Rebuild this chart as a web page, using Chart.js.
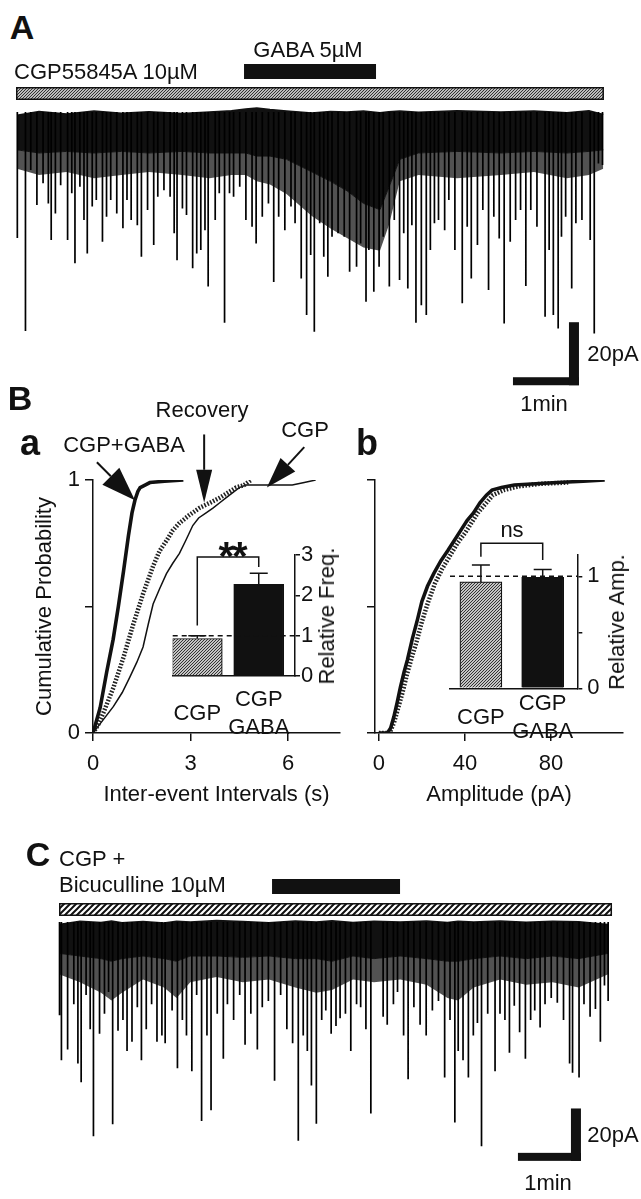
<!DOCTYPE html>
<html>
<head>
<meta charset="utf-8">
<title>CGP55845A / GABA sIPSC figure</title>
<script src="https://cdn.jsdelivr.net/npm/chart.js@4.4.1/dist/chart.umd.min.js"></script>
<style>
  html, body { margin: 0; padding: 0; background: #fff; }
  #fig { position: relative; width: 641px; height: 1199px; overflow: hidden;
         font-family: "Liberation Sans", Arial, Helvetica, sans-serif; color: #111; }
  #fig canvas { position: absolute; }
  .lbl { position: absolute; font-size: 22px; line-height: 1; white-space: nowrap; transform: translate(-50%, -50%); }
  .left { transform: translateY(-50%); }
  .panel { font-weight: bold; font-size: 34px; }
  .up { transform: translate(-50%, -50%) rotate(-90deg); }
</style>
</head>
<body>
<div id="fig">
  <canvas id="traceA" width="641" height="340" style="left:0;top:55px"></canvas>
  <canvas id="cdfIntervals" width="345" height="395" style="left:0;top:420px"></canvas>
  <canvas id="cdfAmp" width="296" height="395" style="left:345px;top:420px"></canvas>
  <canvas id="barFreq" width="195" height="230" style="left:150px;top:520px"></canvas>
  <canvas id="barAmp" width="211" height="230" style="left:430px;top:520px"></canvas>
  <canvas id="traceC" width="641" height="315" style="left:0;top:860px"></canvas>

  <div class="lbl panel" style="left:22px;top:27px">A</div>
  <div class="lbl" style="left:308px;top:50px">GABA 5µM</div>
  <div class="lbl left" style="left:14px;top:72px">CGP55845A 10µM</div>
  <div class="lbl" style="left:613px;top:354px">20pA</div>
  <div class="lbl" style="left:544px;top:404px">1min</div>

  <div class="lbl panel" style="left:20px;top:398px">B</div>
  <div class="lbl panel" style="left:30px;top:443px;font-size:36px">a</div>
  <div class="lbl panel" style="left:367px;top:443px;font-size:36px">b</div>
  <div class="lbl" style="left:124px;top:445px">CGP+GABA</div>
  <div class="lbl" style="left:202px;top:410px">Recovery</div>
  <div class="lbl" style="left:305px;top:430px">CGP</div>
  <div class="lbl" style="left:232px;top:556px;font-size:40px;font-weight:bold;letter-spacing:-2px">**</div>
  <div class="lbl" style="left:512px;top:530px">ns</div>
  <div class="lbl up" style="left:327px;top:616px">Relative Freq.</div>
  <div class="lbl up" style="left:617px;top:622px">Relative Amp.</div>

  <div class="lbl panel" style="left:38px;top:854px">C</div>
  <div class="lbl left" style="left:59px;top:859px">CGP +</div>
  <div class="lbl left" style="left:59px;top:885px">Bicuculline 10µM</div>
  <div class="lbl" style="left:613px;top:1135px">20pA</div>
  <div class="lbl" style="left:548px;top:1183px">1min</div>
</div>

<script>
// ---- panel A: trace in CGP55845A, GABA 5uM applied (time s, current pA) ----
var drugA_cgp = [-0.9, 533.6];
var drugA_gaba = [206.4, 326.4];
var scaleA = {t: 510.9, y: -86.7, dt: 60, dy: 20};

var bandA_t = [0, 20, 45, 70, 95, 120, 150, 175, 195, 208, 218, 230, 245, 268, 285, 300, 315, 330, 338, 348, 365, 400, 440, 470, 500, 520, 533];
var bandA_top = [-1.0, 0.2, -0.6, 0.3, -0.4, 0.1, -0.5, 0.0, 0.4, 1.0, 1.3, 0.8, 0.3, -0.3, 0.2, 0.0, 0.3, -0.2, 0.1, 0.3, -0.1, 0.4, 0.0, 0.3, -0.2, 0.4, -0.8];
var bandA_solid = [-12, -13, -12.5, -13, -12.5, -13, -12.5, -13, -13, -13, -14, -14, -15, -19, -22, -25, -29, -31, -24, -15, -13, -12.5, -13, -12.5, -13, -12.5, -12];
var bandA_dense = [-18, -20, -19, -21, -20, -19, -20, -21, -20, -20, -22, -23, -26, -33, -37, -40, -43, -44, -36, -22, -20, -21, -20, -19, -21, -20, -18];

var eventsA_t = [0.3, 7.7, 12.5, 18.1, 23.7, 28.5, 31.1, 34.9, 39.7, 46.0,
  49.8, 52.7, 57.2, 60.9, 63.9, 68.4, 72.1, 77.7, 81.4, 85.2,
  90.7, 96.3, 100.0, 103.8, 109.4, 113.1, 118.7, 124.3, 128.0, 133.6,
  139.2, 142.9, 145.5, 150.4, 154.1, 159.7, 163.4, 167.1, 170.9, 173.8,
  180.2, 183.9, 188.7, 193.2, 196.9, 202.5, 208.1, 213.7, 217.4, 223.0,
  228.6, 233.4, 237.9, 243.5, 249.1, 252.8, 258.4, 263.3, 267.0, 270.3,
  275.2, 278.9, 282.6, 286.4, 291.9, 297.5, 302.4, 308.7, 312.4, 317.3,
  319.9, 324.4, 329.2, 332.9, 338.5, 343.0, 347.8, 351.6, 355.3, 359.0,
  362.7, 367.6, 372.1, 375.8, 379.5, 383.2, 388.8, 392.6, 398.1, 404.8,
  409.3, 413.0, 418.6, 423.5, 428.7, 433.5, 438.4, 442.9, 448.4, 453.3,
  457.8, 462.6, 467.1, 472.7, 480.1, 483.8, 487.6, 492.0, 495.0, 498.8,
  504.3, 508.1, 513.6, 521.1, 524.8, 528.6, 532.3];
var eventsA_pA = [-40, -69.5, -18.4, -29.5, -22.6, -29.0, -40.6, -32.2, -23.2, -40.6,
  -25.8, -48.0, -23.7, -34.3, -44.9, -30.0, -27.9, -41.2, -33.2, -27.9,
  -32.2, -36.9, -27.9, -34.3, -35.9, -45.9, -31.1, -42.2, -26.9, -24.8,
  -26.9, -38.5, -47.0, -30.6, -32.7, -49.6, -44.9, -43.8, -37.5, -55.4,
  -34.3, -25.8, -66.9, -25.8, -26.9, -23.7, -34.3, -36.4, -41.7, -33.2,
  -29.0, -53.9, -33.2, -37.5, -30.0, -35.3, -52.8, -64.4, -45.4, -69.7,
  -35.3, -45.9, -52.3, -39.6, -38.5, -39.6, -50.7, -49.1, -41.7, -60.2,
  -43.8, -57.0, -49.1, -39.6, -55.4, -34.3, -53.3, -38.5, -56.0, -35.9,
  -66.9, -61.3, -64.4, -43.8, -35.3, -34.3, -37.5, -27.9, -43.8, -60.7,
  -36.4, -52.8, -42.2, -31.1, -56.5, -33.2, -40.1, -67.1, -41.2, -34.3,
  -31.1, -55.2, -31.1, -36.4, -65.0, -43.8, -64.4, -68.7, -39.6, -33.2,
  -56.0, -35.3, -34.3, -40.6, -70.3, -16.3, -16.8];

// ---- panel B a: cumulative inter-event intervals (s) ----
var ivlTicks = [0, 3, 6];
var ivlGabaT = [0, 0.22, 0.42, 0.62, 0.78, 0.94, 1.09, 1.2, 1.29, 1.38, 1.45, 1.6, 1.75, 2.2, 2.78];
var ivlGabaP = [0, 0.10, 0.24, 0.37, 0.50, 0.64, 0.78, 0.87, 0.92, 0.955, 0.97, 0.98, 0.99, 0.995, 1.0];
var ivlRecT = [0, 0.15, 0.32, 0.63, 0.94, 1.24, 1.54, 1.85, 2.05, 2.26, 2.45, 2.66, 2.95, 3.28, 3.6, 3.9, 4.15, 4.4, 4.65, 4.86];
var ivlRecP = [0, 0.03, 0.08, 0.18, 0.30, 0.43, 0.55, 0.66, 0.72, 0.76, 0.80, 0.83, 0.86, 0.89, 0.91, 0.93, 0.95, 0.97, 0.98, 1.0];
var ivlCgpT = [0, 0.3, 0.63, 0.9, 1.13, 1.35, 1.54, 1.7, 1.85, 2.05, 2.26, 2.45, 2.66, 2.85, 3.07, 3.25, 3.48, 3.7, 3.9, 4.1, 4.3, 4.5, 4.71, 5.0, 5.32, 5.7, 6.13, 6.5, 6.85];
var ivlCgpP = [0, 0.05, 0.105, 0.16, 0.22, 0.28, 0.34, 0.43, 0.51, 0.57, 0.63, 0.67, 0.71, 0.76, 0.82, 0.85, 0.87, 0.89, 0.91, 0.93, 0.95, 0.97, 0.98, 0.98, 0.98, 0.98, 0.98, 0.99, 1.0];
// arrow tail and tip for each curve label, in axis units
var ivlArrows = [[[0.12, 1.07], [1.29, 0.92]], [[3.42, 1.18], [3.42, 0.91]], [[6.5, 1.13], [5.35, 0.97]]];

var barCats = ['CGP', ['CGP', 'GABA']];
var freqMean = [0.93, 2.27];
var freqSem = [0.07, 0.28];
var freqTicks = [0, 1, 2, 3];
var freqBracket = [1.25, 2.95, 2.7];

// ---- panel B b: cumulative amplitude (pA) ----
var ampTicks = [0, 40, 80];
var ampGabaA = [0, 4, 5.5, 7, 8.5, 10, 11.7, 13.3, 15.5, 18, 20, 22.6, 25.5, 28.8, 32, 35, 38, 41, 44, 47, 50, 52.6, 57, 63, 73, 83, 95, 105];
var ampGabaP = [0, 0, 0.02, 0.065, 0.12, 0.18, 0.24, 0.29, 0.37, 0.45, 0.52, 0.58, 0.63, 0.68, 0.72, 0.76, 0.80, 0.84, 0.87, 0.91, 0.94, 0.96, 0.97, 0.98, 0.985, 0.99, 0.995, 1.0];
var ampCgpA = [0, 5, 7, 9, 11, 13, 15, 17.5, 20, 23, 26, 29.5, 33, 36.5, 40, 43, 46, 49, 53, 58, 65, 75, 88];
var ampCgpP = [0, 0, 0.04, 0.10, 0.16, 0.23, 0.29, 0.36, 0.44, 0.52, 0.59, 0.65, 0.70, 0.75, 0.79, 0.83, 0.87, 0.90, 0.94, 0.96, 0.975, 0.985, 0.99];

var ampMean = [0.95, 0.99];
var ampSem = [0.15, 0.07];
var ampBarTicks = [0, 0.5, 1];
var ampBracket = [1.175, 1.295, 1.145];

// ---- panel C: CGP + bicuculline, GABA applied ----
var drugC_cgp = [0, 526.7];
var drugC_gaba = [202.9, 324.8];
var scaleC = {t: 497.1, y: -91.2, dt: 60, dy: 20};

var bandC_t = [0, 20, 40, 50, 60, 80, 100, 112, 125, 150, 175, 200, 225, 245, 260, 280, 300, 325, 350, 370, 380, 395, 420, 445, 470, 495, 523];
var bandC_top = [-1.0, 0.3, -0.2, 0.4, -0.3, 0.2, -0.4, 0.3, 0.0, 0.6, 0.2, -0.3, 0.4, 0.0, 0.5, -0.2, 0.3, 0.0, 0.4, -0.2, 0.3, 0.0, 0.4, -0.1, 0.3, 0.1, -1.0];
var bandC_solid = [-12, -13, -14, -15, -14, -13, -14, -15, -13, -13, -13.5, -13, -14, -14, -15, -13, -14, -13, -14, -15, -15, -14, -13, -14, -13, -14, -12];
var bandC_dense = [-20, -23, -27, -30, -27, -22, -25, -29, -23, -21, -23, -22, -25, -27, -26, -22, -23, -22, -24, -29, -30, -25, -22, -24, -23, -25, -20];

var eventsC_t = [0.5, 2.3, 8.2, 14.1, 18.0, 21.1, 25.8, 29.7, 32.8, 38.6,
  43.3, 47.2, 51.1, 56.2, 60.9, 64.8, 69.5, 74.6, 78.5, 83.1,
  88.2, 93.3, 98.0, 101.1, 107.7, 112.8, 117.5, 121.4, 126.5, 131.1,
  135.8, 140.9, 144.8, 150.7, 156.5, 160.4, 166.3, 172.1, 177.2, 182.7,
  188.9, 193.6, 199.4, 205.3, 211.1, 217.0, 222.5, 227.9, 232.6, 236.5,
  240.4, 245.1, 250.2, 254.1, 259.2, 263.8, 267.7, 272.8, 277.9, 283.4,
  287.3, 292.3, 297.0, 308.7, 312.6, 318.5, 322.4, 328.2, 332.5, 338.0,
  343.9, 349.7, 355.6, 361.4, 367.3, 372.4, 377.0, 380.2, 384.8, 389.9,
  394.6, 398.5, 402.4, 408.3, 415.3, 420.0, 424.7, 429.0, 433.6, 438.7,
  444.2, 449.2, 453.1, 458.2, 462.9, 468.8, 474.6, 480.5, 486.3, 489.1,
  495.3, 500.0, 505.8, 510.9, 515.6, 519.5, 523.0];
var eventsC_pA = [-35.6, -52.8, -48.7, -31.4, -54.0, -61.2, -27.9, -41.0, -81.8, -42.7,
  -35.0, -26.7, -77.2, -41.5, -37.4, -49.3, -45.7, -32.6, -52.8, -41.0,
  -31.4, -45.7, -43.3, -46.3, -33.8, -55.8, -37.4, -43.3, -57.0, -27.9,
  -76.0, -43.3, -71.9, -35.0, -52.2, -31.4, -37.4, -27.9, -46.9, -35.0,
  -48.7, -32.6, -30.2, -60.6, -27.9, -41.0, -46.3, -83.5, -43.3, -49.3,
  -62.4, -77.0, -37.4, -33.8, -42.7, -39.7, -36.8, -35.0, -49.3, -31.4,
  -32.6, -41.0, -73.1, -36.2, -39.2, -31.4, -26.7, -43.3, -60.0, -32.6,
  -39.2, -43.3, -33.8, -30.2, -59.4, -37.4, -76.6, -49.3, -52.8, -59.4,
  -43.3, -38.6, -85.6, -35.0, -57.0, -35.0, -37.4, -49.9, -32.0, -42.1,
  -52.2, -37.4, -33.8, -40.3, -31.4, -29.0, -30.8, -37.4, -54.0, -57.6,
  -59.4, -31.4, -36.2, -33.2, -45.7, -24.3, -30.2];

var INK = '#111';
Chart.defaults.font.family = '"Liberation Sans", Arial, Helvetica, sans-serif';
Chart.defaults.font.size = 22;
Chart.defaults.color = INK;

function pts(xs, ys) {
  return xs.map(function (x, i) { return {x: x, y: ys[i]}; });
}
function eventPts(ts, vals) {
  var out = [];
  ts.forEach(function (t, i) { out.push({x: t, y: 0}, {x: t, y: vals[i]}, {x: t, y: null}); });
  return out;
}
function fixedTicks(values) {
  return function (scale) { scale.ticks = values.map(function (v) { return {value: v}; }); };
}
function hatch(ctx, size, lw, bg, fg) {
  var c = document.createElement('canvas');
  c.width = size; c.height = size;
  var g = c.getContext('2d');
  g.fillStyle = bg; g.fillRect(0, 0, size, size);
  g.strokeStyle = fg; g.lineWidth = lw;
  g.beginPath();
  g.moveTo(-1, size + 1); g.lineTo(size + 1, -1);
  g.moveTo(-size / 2 - 1, size / 2 + 1); g.lineTo(size / 2 + 1, -size / 2 - 1);
  g.moveTo(size / 2 - 1, size * 1.5 + 1); g.lineTo(size * 1.5 + 1, size / 2 - 1);
  g.stroke();
  return ctx.createPattern(c, 'repeat');
}
function baseOpts() {
  return {
    responsive: false, animation: false, devicePixelRatio: 1,
    elements: { point: { radius: 0 }, line: { tension: 0 } },
    plugins: { legend: { display: false }, tooltip: { enabled: false } }
  };
}

// drug bars above the trace and the L-shaped calibration bar
function traceDeco(bars, sb) {
  return {
    id: 'traceDeco',
    afterDraw: function (chart) {
      var c = chart.ctx, x = chart.scales.x, y = chart.scales.y, top = chart.chartArea.top;
      c.save();
      bars.forEach(function (b) {
        var x0 = x.getPixelForValue(b.range[0]), x1 = x.getPixelForValue(b.range[1]);
        c.fillStyle = b.hatch ? hatch(c, b.hatch[0], b.hatch[1], b.hatch[2], b.hatch[3]) : INK;
        c.fillRect(x0, top + b.y, x1 - x0, b.h);
        if (b.hatch) {
          c.strokeStyle = INK; c.lineWidth = 1.5;
          c.strokeRect(x0 + 0.75, top + b.y + 0.75, x1 - x0 - 1.5, b.h - 1.5);
        }
      });
      var xr = x.getPixelForValue(sb.t), xl = x.getPixelForValue(sb.t - sb.dt);
      var yb = y.getPixelForValue(sb.y), yt = y.getPixelForValue(sb.y + sb.dy);
      c.fillStyle = INK;
      c.fillRect(xl, yb - 8, xr - xl, 8);
      c.fillRect(xr - 10, yt, 10, yb - yt);
      c.restore();
    }
  };
}

function traceChart(id, evT, evA, bT, bTop, bSolid, bDense, xr, yr, bars, sb) {
  var ctx = document.getElementById(id).getContext('2d');
  var o = baseOpts();
  o.layout = { padding: 0 };
  o.scales = {
    x: { type: 'linear', display: false, min: xr[0], max: xr[1] },
    y: { type: 'linear', display: false, min: yr[0], max: yr[1] }
  };
  return new Chart(ctx, {
    type: 'line',
    data: { datasets: [
      { data: eventPts(evT, evA), borderColor: '#000', borderWidth: 1.7, spanGaps: false },
      { data: pts(bT, bTop), borderColor: INK, borderWidth: 1.5 },
      { data: pts(bT, bSolid), borderColor: INK, borderWidth: 1, fill: '-1', backgroundColor: INK },
      { data: pts(bT, bDense), borderColor: 'rgba(0,0,0,0)', borderWidth: 0, fill: '-1', backgroundColor: 'rgba(0,0,0,0.68)' }
    ]},
    options: o,
    plugins: [traceDeco(bars, sb)]
  });
}

function axisX(min, max, ticks, title) {
  return {
    type: 'linear', min: min, max: max,
    afterBuildTicks: fixedTicks(ticks),
    afterFit: function (s) { s.height = 82; },
    grid: { drawOnChartArea: false, drawTicks: true, tickLength: 8, color: INK, lineWidth: 1.5 },
    border: { display: true, color: INK, width: 1.5 },
    ticks: { padding: 10, maxRotation: 0, autoSkip: false, color: INK },
    title: { display: true, text: title, color: INK, padding: { top: 0, bottom: 7 } }
  };
}
function axisY(width, labels, title) {
  var ax = {
    type: 'linear', min: 0, max: 1,
    afterBuildTicks: fixedTicks([0, 0.5, 1]),
    afterFit: function (s) { s.width = width; },
    grid: { drawOnChartArea: false, drawTicks: true, tickLength: 8, color: INK, lineWidth: 1.5 },
    border: { display: true, color: INK, width: 1.5 },
    ticks: { padding: 5, color: INK, callback: function (v) { return labels[[0, 0.5, 1].indexOf(v)]; } }
  };
  if (title) ax.title = { display: true, text: title, color: INK, padding: { top: 32 } };
  return ax;
}

function arrowDeco(list) {
  var heads = [[34, 12], [33, 8], [31, 10]];
  return {
    id: 'arrowDeco',
    afterDraw: function (chart) {
      var c = chart.ctx, x = chart.scales.x, y = chart.scales.y;
      c.save(); c.strokeStyle = INK; c.fillStyle = INK; c.lineWidth = 2;
      list.forEach(function (a, i) {
        var x0 = x.getPixelForValue(a[0][0]), y0 = y.getPixelForValue(a[0][1]);
        var x1 = x.getPixelForValue(a[1][0]), y1 = y.getPixelForValue(a[1][1]);
        var ang = Math.atan2(y1 - y0, x1 - x0), L = heads[i][0], W = heads[i][1];
        var bx = x1 - L * Math.cos(ang), by = y1 - L * Math.sin(ang);
        c.beginPath(); c.moveTo(x0, y0); c.lineTo(bx, by); c.stroke();
        c.beginPath(); c.moveTo(x1, y1);
        c.lineTo(bx + W * Math.sin(ang), by - W * Math.cos(ang));
        c.lineTo(bx - W * Math.sin(ang), by + W * Math.cos(ang));
        c.closePath(); c.fill();
      });
      c.restore();
    }
  };
}

function insetDeco(means, sems, br) {
  return {
    id: 'insetDeco',
    afterDraw: function (chart) {
      var c = chart.ctx, x = chart.scales.x, y = chart.scales.y, a = chart.chartArea;
      c.save(); c.strokeStyle = INK; c.lineWidth = 1.5;
      means.forEach(function (m, i) {
        var px = x.getPixelForValue(i + 0.5), y0 = y.getPixelForValue(m), y1 = y.getPixelForValue(m + sems[i]);
        c.beginPath(); c.moveTo(px, y0); c.lineTo(px, y1);
        c.moveTo(px - 9, y1); c.lineTo(px + 9, y1); c.stroke();
      });
      var yr = y.getPixelForValue(1);
      c.setLineDash([5, 4]);
      c.beginPath(); c.moveTo(a.left, yr); c.lineTo(a.right, yr); c.stroke();
      c.setLineDash([]);
      var xl = x.getPixelForValue(0.5), xr = x.getPixelForValue(1.5);
      c.beginPath();
      c.moveTo(xl, y.getPixelForValue(br[0])); c.lineTo(xl, y.getPixelForValue(br[1]));
      c.lineTo(xr, y.getPixelForValue(br[1])); c.lineTo(xr, y.getPixelForValue(br[2]));
      c.stroke();
      c.restore();
    }
  };
}

function insetChart(id, means, sems, yMax, yTicks, yLabels, br, g) {
  var ctx = document.getElementById(id).getContext('2d');
  var o = baseOpts();
  o.layout = { padding: { left: g.padL, top: 35 } };
  o.scales = {
    x: { type: 'linear', offset: false, min: g.xMin, max: g.xMax,
         afterBuildTicks: fixedTicks([0.5, 1.5]),
         afterFit: function (s) { s.height = g.xH; },
         grid: { display: false, offset: false },
         border: { display: true, color: INK, width: 1.5 },
         ticks: { padding: g.xPad, crossAlign: 'center', maxRotation: 0, autoSkip: false, color: INK,
                  font: { lineHeight: 1.27 },
                  callback: function (v, i) { return barCats[i]; } } },
    y: { position: 'right', min: 0, max: yMax,
         afterBuildTicks: fixedTicks(yTicks),
         afterFit: function (s) { s.width = g.yW; },
         grid: { drawOnChartArea: false, drawTicks: true, tickLength: 5, color: INK, lineWidth: 1.5 },
         border: { display: true, color: INK, width: 1.5 },
         ticks: { padding: g.yPad, color: INK, callback: function (v) { return yLabels[yTicks.indexOf(v)]; } } }
  };
  return new Chart(ctx, {
    type: 'bar',
    data: { datasets: [{
      data: means.map(function (m, i) { return {x: i + 0.5, y: m}; }),
      backgroundColor: [hatch(ctx, 3, 1, '#c4c4c4', '#333'), INK],
      borderColor: INK, borderWidth: 1.2, barThickness: g.barW
    }]},
    options: o,
    plugins: [insetDeco(means, sems, br)]
  });
}

// ---- build ----
traceChart('traceA', eventsA_t, eventsA_pA, bandA_t, bandA_top, bandA_solid, bandA_dense,
  [-15.45, 567.3], [-89.8, 18.1],
  [{range: drugA_gaba, y: 9, h: 15},
   {range: drugA_cgp, y: 32, h: 13, hatch: [3, 1, '#bdbdbd', '#333']}],
  scaleA);

(function () {
  var o = baseOpts();
  o.layout = { padding: { top: 60, right: 5 } };
  o.scales = { x: axisX(0, 7.6, ivlTicks, 'Inter-event Intervals (s)'),
               y: axisY(93, ['0', '', '1'], 'Cumulative Probability') };
  new Chart(document.getElementById('cdfIntervals'), {
    type: 'line',
    data: { datasets: [
      { data: pts(ivlGabaT, ivlGabaP), borderColor: INK, borderWidth: 3.6 },
      { data: pts(ivlRecT, ivlRecP), borderColor: '#222', borderWidth: 4.5, borderDash: [1.6, 1.6] },
      { data: pts(ivlCgpT, ivlCgpP), borderColor: INK, borderWidth: 1.5 }
    ]},
    options: o,
    plugins: [arrowDeco(ivlArrows)]
  });
})();

(function () {
  var o = baseOpts();
  o.layout = { padding: { top: 60, right: 18 } };
  o.scales = { x: axisX(-1.8, 113.5, ampTicks, 'Amplitude (pA)'),
               y: axisY(30, ['', '', '']) };
  new Chart(document.getElementById('cdfAmp'), {
    type: 'line',
    data: { datasets: [
      { data: pts(ampGabaA, ampGabaP), borderColor: INK, borderWidth: 3.6 },
      { data: pts(ampCgpA, ampCgpP), borderColor: '#222', borderWidth: 4.5, borderDash: [1.6, 1.6] }
    ]},
    options: o
  });
})();

insetChart('barFreq', freqMean, freqSem, 3, freqTicks, ['0', '1', '2', '3'], freqBracket,
  { padL: 22.7, xMin: 0.1, xMax: 2.09, xH: 74, xPad: 16, yW: 50, yPad: 1, barW: 50 });
insetChart('barAmp', ampMean, ampSem, 1.19, ampBarTicks, ['0', '', '1'], ampBracket,
  { padL: 20, xMin: 0, xMax: 2.06, xH: 61.7, xPad: 8, yW: 63.7, yPad: 5, barW: 42 });

traceChart('traceC', eventsC_t, eventsC_pA, bandC_t, bandC_top, bandC_solid, bandC_dense,
  [-56.2, 554.3], [-96.6, 23.66],
  [{range: drugC_gaba, y: 19, h: 15},
   {range: drugC_cgp, y: 43, h: 13, hatch: [6, 2, '#fff', '#111']}],
  scaleC);
</script>
</body>
</html>
